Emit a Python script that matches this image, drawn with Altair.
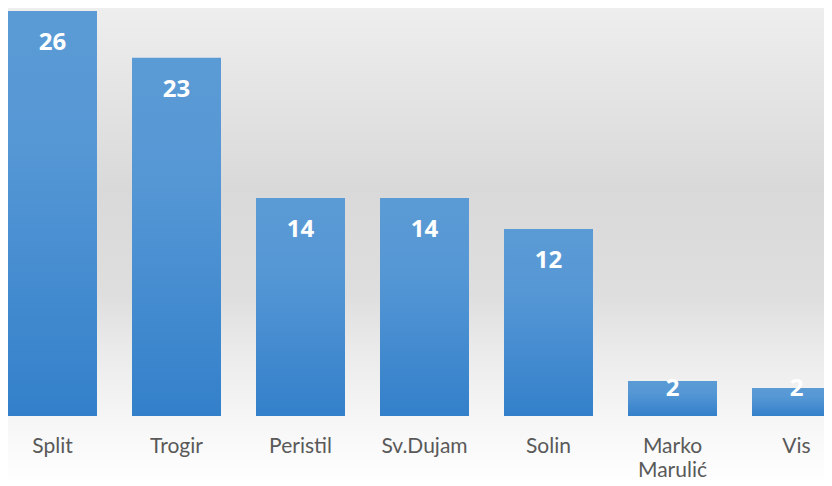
import altair as alt
import pandas as pd

categories = ["Split", "Trogir", "Peristil", "Sv.Dujam", "Solin", "Marko Marulić", "Vis"]
values = [26, 23, 14, 14, 12, 2.25, 1.8]

df = pd.DataFrame({"cat": categories, "value": values})

W, H = 816, 408

xscale = alt.Scale(domain=categories, range=[0, 833], paddingInner=0.2823, paddingOuter=0)
yscale = alt.Scale(domain=[0, 26.19], nice=False, zero=True)

bg_grad = alt.Gradient(
    gradient="linear", x1=0, x2=0, y1=0, y2=1,
    stops=[
        alt.GradientStop(color="#eeeeee", offset=0),
        alt.GradientStop(color="#d9d9d9", offset=0.38),
        alt.GradientStop(color="#dedede", offset=0.6),
        alt.GradientStop(color="#ebebeb", offset=0.72),
        alt.GradientStop(color="#f6f6f6", offset=0.86),
        alt.GradientStop(color="#ffffff", offset=1),
    ],
)
bar_grad = alt.Gradient(
    gradient="linear", x1=0, x2=0, y1=0, y2=1,
    stops=[
        alt.GradientStop(color="#5B9BD5", offset=0),
        alt.GradientStop(color="#5597D5", offset=0.35),
        alt.GradientStop(color="#3380CA", offset=1),
    ],
)

xaxis = alt.Axis(title=None, domain=False, ticks=False, labelAngle=0,
                 labelFont="Lato", labelFontSize=21, labelColor="#595959",
                 labelPadding=19, labelLineHeight=24, zindex=2, grid=False,
                 labelExpr="split(datum.label, ' ')", labelOverlap=False)

base = alt.Chart(df)

bg = alt.Chart(pd.DataFrame({"a": [0]})).mark_rect(fill=bg_grad).encode(
    x=alt.value(0), x2=alt.value(W), y=alt.value(0), y2=alt.value(478)
)

bars = base.mark_bar(fill=bar_grad).encode(
    x=alt.X("cat:N", scale=xscale, sort=categories, axis=xaxis),
    y=alt.Y("value:Q", scale=yscale, axis=None),
)

labels = base.transform_calculate(
    label_y="max(datum.value - 2.05, 1.72)"
).mark_text(
    color="white", font="Open Sans", fontWeight="bold", fontSize=24, baseline="middle"
).encode(
    x=alt.X("cat:N", scale=xscale, sort=categories, axis=xaxis),
    y=alt.Y("label_y:Q", scale=yscale, axis=None),
    text=alt.Text("value:Q", format=".0f"),
)

chart = alt.layer(bg, bars, labels).properties(
    width=W, height=H,
    autosize=alt.AutoSizeParams(type="none"),
    padding={"left": 0, "top": 0, "right": 0, "bottom": 64},
).configure_view(stroke=None)

chart.save("out.html", embed_options={"renderer": "svg", "actions": False})
